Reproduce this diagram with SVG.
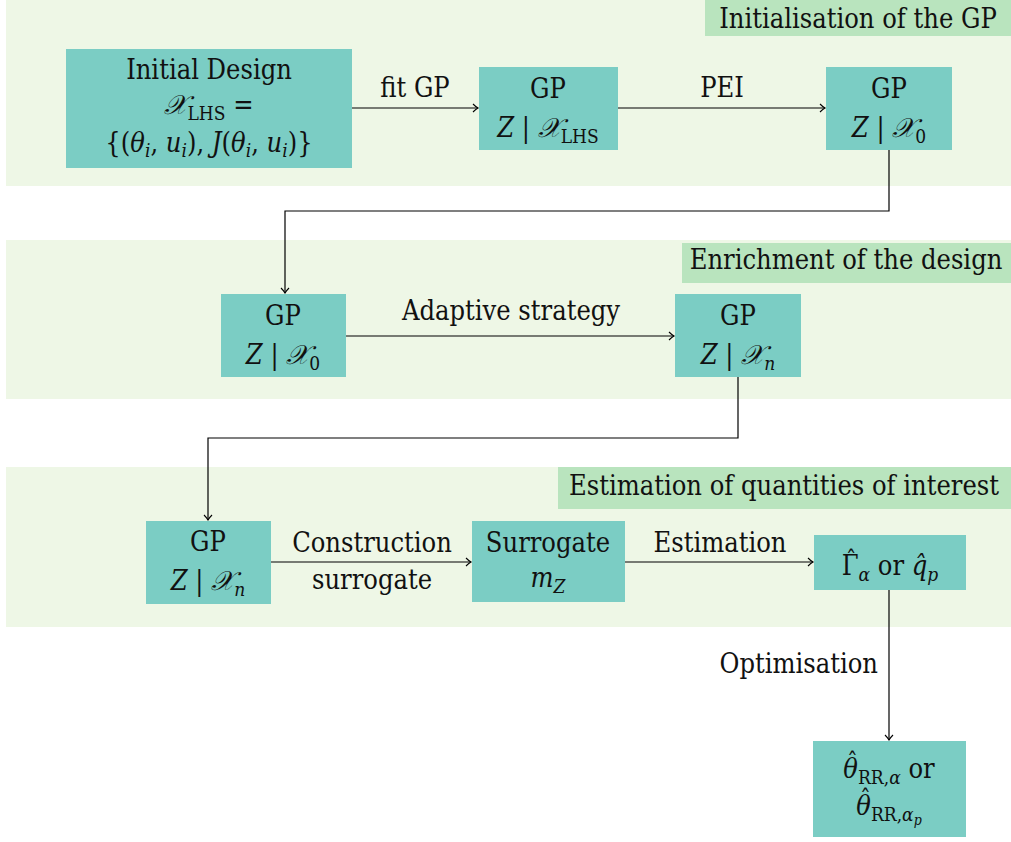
<svg xmlns="http://www.w3.org/2000/svg" width="1011" height="842" viewBox="0 0 1011 842" font-family="DejaVu Serif Condensed, DejaVu Serif, serif">
<defs>
<marker id="arr" viewBox="-6 -5 8 10" refX="0" refY="0" markerWidth="8" markerHeight="10" markerUnits="userSpaceOnUse" orient="auto">
<path d="M -5 -4 Q -2 -1 0 0 Q -2 1 -5 4" fill="none" stroke="#000" stroke-width="1.1"/>
</marker>
<style>
.panel{fill:#eef7e6}
.lab{fill:#b9e4be}
.node{fill:#7bcdc4}
text{font-size:27px;fill:#111;text-anchor:middle;font-stretch:condensed}
.it{font-style:italic}
.sub{font-size:19px}
.hat{font-size:24px;font-style:normal}
.conn{fill:none;stroke:#000;stroke-width:1.2}
</style>
</defs>
<rect width="1011" height="842" fill="#fff"/>
<g id="panels">
<rect class="panel" x="6" y="0" width="1005" height="186"/>
<rect class="lab" x="705" y="0" width="306" height="36"/>
<text x="858" y="28">Initialisation of the GP</text>
<rect class="panel" x="6" y="240" width="1005" height="159"/>
<rect class="lab" x="682" y="243" width="329" height="40"/>
<text x="846" y="269">Enrichment of the design</text>
<rect class="panel" x="6" y="467" width="1005" height="160"/>
<rect class="lab" x="558" y="467" width="453" height="42"/>
<text x="784" y="495">Estimation of quantities of interest</text>
</g>
<g id="connectors">
<line class="conn" x1="352" y1="108" x2="478" y2="108" marker-end="url(#arr)"/>
<text x="415" y="97">fit GP</text>
<line class="conn" x1="618" y1="108" x2="825" y2="108" marker-end="url(#arr)"/>
<text x="722" y="97">PEI</text>
<path class="conn" d="M 889 150 V 211 H 285 V 293" marker-end="url(#arr)"/>
<line class="conn" x1="346" y1="336" x2="674" y2="336" marker-end="url(#arr)"/>
<text x="511" y="320">Adaptive strategy</text>
<path class="conn" d="M 738 377 V 438 H 208 V 520" marker-end="url(#arr)"/>
<line class="conn" x1="271" y1="562" x2="471" y2="562" marker-end="url(#arr)"/>
<text x="372" y="552">Construction</text>
<text x="372" y="589">surrogate</text>
<line class="conn" x1="625" y1="562" x2="813" y2="562" marker-end="url(#arr)"/>
<text x="720" y="552">Estimation</text>
<line class="conn" x1="889" y1="590" x2="889" y2="740" marker-end="url(#arr)"/>
<text x="878" y="673" style="text-anchor:end">Optimisation</text>
</g>
<g id="n-initial">
<rect class="node" x="66" y="49" width="286" height="119"/>
<text x="209" y="79">Initial Design</text>
<text x="209" y="114"><tspan class="it">𝒳</tspan><tspan class="sub" dy="6">LHS</tspan><tspan dy="-6">   =</tspan></text>
<text x="209" y="152">{(<tspan class="it">θ</tspan><tspan class="sub it" dy="5">i</tspan><tspan dy="-5">, </tspan><tspan class="it">u</tspan><tspan class="sub it" dy="5">i</tspan><tspan dy="-5">), </tspan><tspan class="it">J</tspan>(<tspan class="it">θ</tspan><tspan class="sub it" dy="5">i</tspan><tspan dy="-5">, </tspan><tspan class="it">u</tspan><tspan class="sub it" dy="5">i</tspan><tspan dy="-5">)}</tspan></text>
</g>
<g id="n-gp-lhs">
<rect class="node" x="479" y="67" width="139" height="83"/>
<text x="548" y="98">GP</text>
<text x="548" y="137"><tspan class="it">Z</tspan> | <tspan class="it">𝒳</tspan><tspan class="sub" dy="6">LHS</tspan></text>
</g>
<g id="n-gp-x0a">
<rect class="node" x="826" y="67" width="126" height="83"/>
<text x="889" y="98">GP</text>
<text x="889" y="137"><tspan class="it">Z</tspan> | <tspan class="it">𝒳</tspan><tspan class="sub" dy="6">0</tspan></text>
</g>
<g id="n-gp-x0b">
<rect class="node" x="221" y="294" width="125" height="83"/>
<text x="283" y="325">GP</text>
<text x="283" y="364"><tspan class="it">Z</tspan> | <tspan class="it">𝒳</tspan><tspan class="sub" dy="6">0</tspan></text>
</g>
<g id="n-gp-xna">
<rect class="node" x="675" y="294" width="126" height="83"/>
<text x="738" y="325">GP</text>
<text x="738" y="364"><tspan class="it">Z</tspan> | <tspan class="it">𝒳</tspan><tspan class="sub it" dy="6">n</tspan></text>
</g>
<g id="n-gp-xnb">
<rect class="node" x="146" y="521" width="125" height="83"/>
<text x="208" y="551">GP</text>
<text x="208" y="590"><tspan class="it">Z</tspan> | <tspan class="it">𝒳</tspan><tspan class="sub it" dy="6">n</tspan></text>
</g>
<g id="n-surrogate">
<rect class="node" x="472" y="521" width="153" height="81"/>
<text x="548" y="552">Surrogate</text>
<text x="548" y="587"><tspan class="it">m</tspan><tspan class="sub it" dy="6">Z</tspan></text>
</g>
<g id="n-estimate">
<rect class="node" x="814" y="535" width="152" height="55"/>
<text x="890" y="575">Γ<tspan class="hat" dx="-12.9" dy="-7">ˆ</tspan><tspan class="sub it" dx="2.1" dy="13">α</tspan><tspan dy="-6"> or </tspan><tspan class="it">q̂</tspan><tspan class="sub it" dy="6">p</tspan></text>
</g>
<g id="n-theta">
<rect class="node" x="813" y="741" width="153" height="96"/>
<text x="889" y="778"><tspan class="it">θ</tspan><tspan class="hat" dx="-10.9" dy="-8">ˆ</tspan><tspan class="sub" dx="0.1" dy="14">RR,</tspan><tspan class="sub it">α</tspan><tspan dy="-6"> or</tspan></text>
<text x="889" y="815"><tspan class="it">θ</tspan><tspan class="hat" dx="-10.9" dy="-8">ˆ</tspan><tspan class="sub" dx="0.1" dy="14">RR,</tspan><tspan class="sub it">α</tspan><tspan class="it" style="font-size:14px" dy="4">p</tspan></text>
</g>
</svg>
